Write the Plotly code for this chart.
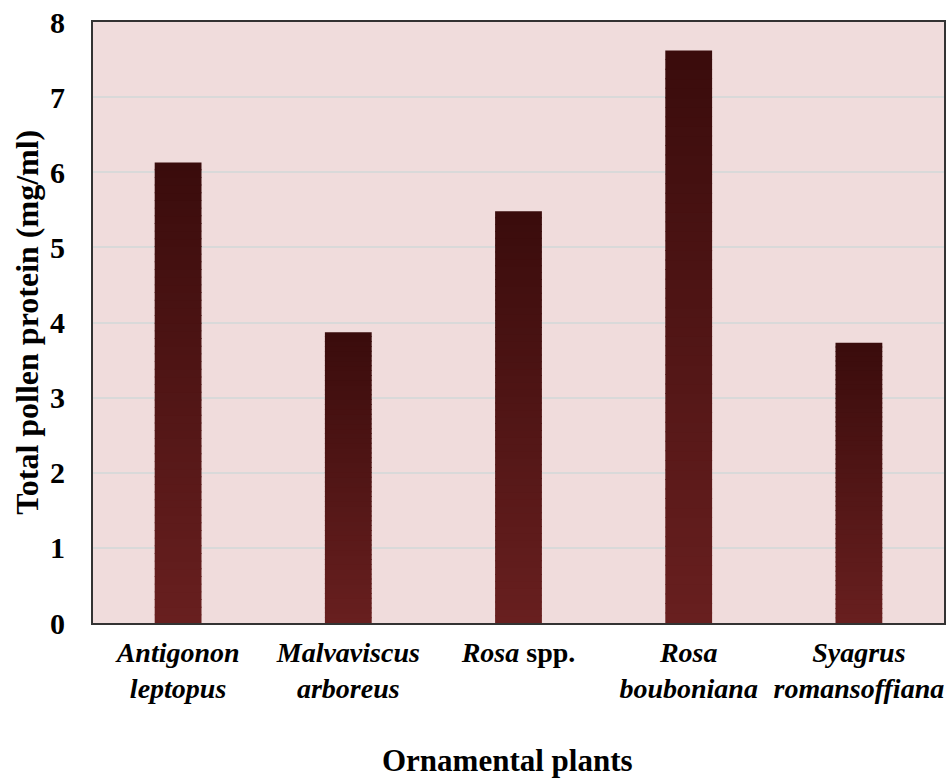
import plotly.graph_objects as go

categories = ["Antigonon leptopus", "Malvaviscus arboreus", "Rosa spp.",
              "Rosa bouboniana", "Syagrus romansoffiana"]
tick_labels = ["<i>Antigonon</i><br><i>leptopus</i>",
               "<i>Malvaviscus</i><br><i>arboreus</i>",
               "<i>Rosa</i> spp.",
               "<i>Rosa</i><br><i>bouboniana</i>",
               "<i>Syagrus</i><br><i>romansoffiana</i>"]
protein = [6.13, 3.87, 5.48, 7.62, 3.73]
y_ticks = [0, 1, 2, 3, 4, 5, 6, 7, 8]

FONT = "Liberation Serif, Times New Roman, serif"
top_rgb = (58, 12, 12)
bottom_rgb = (104, 31, 31)
N = 60
OVERLAP = 0.012  # small overlap between gradient segments to hide seams

fig = go.Figure()
# gradient bars: each bar split into N slices, dark at the top, lighter at the base
for k in range(N):
    frac = (k + 0.5) / N
    c = tuple(round(bottom_rgb[i] + (top_rgb[i] - bottom_rgb[i]) * frac) for i in range(3))
    extra = OVERLAP if k < N - 1 else 0.0
    fig.add_trace(go.Bar(
        x=categories,
        base=[v * k / N for v in protein],
        y=[v / N + extra for v in protein],
        marker=dict(color=f"rgb{c}", line=dict(width=0)),
        width=0.275,
        showlegend=False,
        hoverinfo="skip",
    ))

fig.update_layout(
    width=949, height=781,
    margin=dict(l=93, r=3, t=22, b=158),
    barmode="overlay",
    plot_bgcolor="#f0dcdc",
    paper_bgcolor="white",
    font=dict(family=FONT, color="black"),
    showlegend=False,
)
fig.update_xaxes(
    tickmode="array", tickvals=categories, ticktext=tick_labels,
    tickfont=dict(size=28, weight="bold", family=FONT),
    showline=True, linecolor="#333333", linewidth=2, mirror=True,
    ticks="", ticklabelstandoff=3,
    showgrid=False,
)
fig.update_yaxes(
    range=[0, 8], tickmode="array", tickvals=y_ticks,
    tickfont=dict(size=30, weight="bold", family=FONT),
    showline=True, linecolor="#333333", linewidth=2, mirror=True,
    gridcolor="#d9d9d9", gridwidth=2,
    ticks="", ticklabelstandoff=20,
    zeroline=False,
)
fig.add_annotation(
    text="Total pollen protein (mg/ml)", textangle=-90,
    xref="paper", yref="paper", x=(26 - 93) / 853, y=0.5,
    xanchor="center", yanchor="middle", showarrow=False,
    font=dict(size=32, weight="bold", family=FONT),
)
fig.add_annotation(
    text="Ornamental plants",
    xref="paper", yref="paper", x=(508 - 93) / 853, y=(623 - 760) / 601,
    xanchor="center", yanchor="middle", showarrow=False,
    font=dict(size=31, weight="bold", family=FONT),
)
fig.write_html("out.html", config={"displayModeBar": False},
               post_script="document.body.style.margin='0';")
